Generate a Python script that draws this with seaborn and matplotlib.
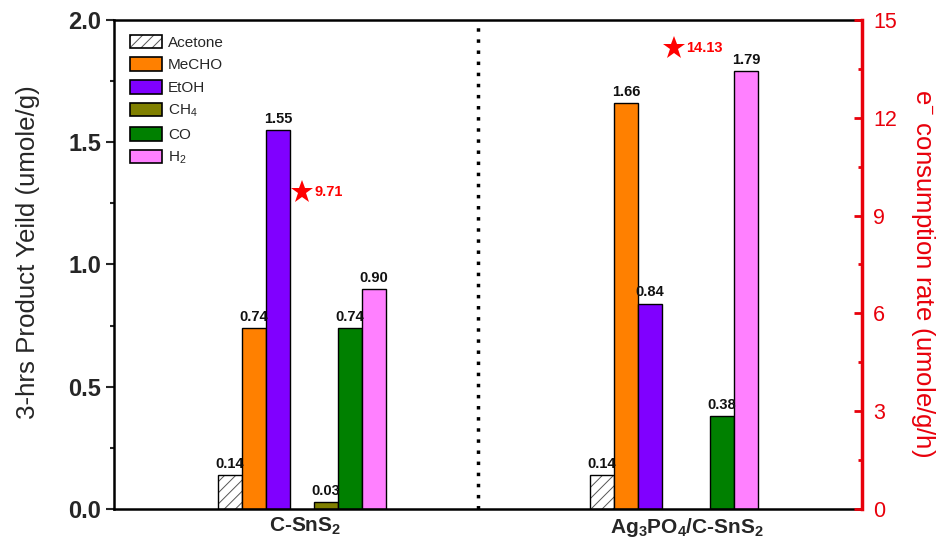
import numpy as np
import pandas as pd
import matplotlib
matplotlib.use("Agg")
import matplotlib.pyplot as plt
import matplotlib.patches as mpatches
import matplotlib.colors as mcolors
from matplotlib.ticker import MultipleLocator
import seaborn as sns

# ---- data ----
samples = ["C-SnS2", "Ag3PO4/C-SnS2"]
sample_labels = ["C-SnS$_2$", "Ag$_3$PO$_4$/C-SnS$_2$"]
products = ["Acetone", "MeCHO", "EtOH", "CH4", "CO", "H2"]
product_labels = ["Acetone", "MeCHO", "EtOH", "CH$_4$", "CO", "H$_2$"]
acetone = [0.14, 0.14]
mecho = [0.74, 1.66]
etoh = [1.55, 0.84]
ch4 = [0.03, np.nan]
co = [0.74, 0.38]
h2 = [0.90, 1.79]
e_rate = [9.71, 14.13]
colors = ["#FFFFFF", "#FF8000", "#8000FF", "#808000", "#008000", "#FF80FF"]

sns.set_theme(style="ticks")
plt.rcParams["font.family"] = ["Liberation Sans", "DejaVu Sans"]
plt.rcParams["mathtext.default"] = "regular"
plt.rcParams["hatch.linewidth"] = 0.7

series = [acetone, mecho, etoh, ch4, co, h2]
rows = []
for prod, vals in zip(products, series):
    for s, v in zip(samples, vals):
        rows.append({"sample": s, "product": prod, "value": v})
df = pd.DataFrame(rows)

GAP = " "
hue_order = products[:3] + [GAP] + products[3:]
palette = dict(zip(products, colors))
palette[GAP] = "#FFFFFF"

fig = plt.figure(figsize=(9.38, 5.43), dpi=100)
ax = fig.add_axes([0.1215, 0.0626, 0.7975, 0.9006])

sns.barplot(data=df.dropna(), x="sample", y="value", hue="product",
            order=samples, hue_order=hue_order, palette=palette,
            width=0.4516, edgecolor="black", linewidth=1.0,
            errorbar=None, legend=False, ax=ax, saturation=1)

hatch_gray = mcolors.to_rgba("#555555")
for cont in ax.containers:
    if len(cont.patches) == 0:
        continue
    fc = cont.patches[0].get_facecolor()
    is_acetone = mcolors.to_hex(fc) == "#ffffff"
    if is_acetone:
        for p in cont.patches:
            p.set_hatch("///")
            p._hatch_color = hatch_gray
    labels = ["" if (v is None or np.isnan(v)) else f"{v:.2f}" for v in cont.datavalues]
    ax.bar_label(cont, labels=labels, padding=3, fontsize=10.5, fontweight="bold",
                 color="#111111")

ax.set_xlim(-0.505, 1.505)
ax.set_ylim(0, 2.0)
ax.yaxis.set_major_locator(MultipleLocator(0.5))
ax.yaxis.set_minor_locator(MultipleLocator(0.25))
ax.tick_params(axis="y", which="major", direction="out", length=6, width=1.5,
               labelsize=17, pad=3)
ax.tick_params(axis="y", which="minor", direction="out", length=3, width=1.5)
ax.set_yticks([0, 0.5, 1.0, 1.5, 2.0])
ax.set_yticklabels([f"{v:.1f}" for v in [0, 0.5, 1.0, 1.5, 2.0]], fontweight="bold", fontsize=17)

ax.set_xticks([0.01, 1.035])
ax.set_xticklabels(sample_labels, fontsize=15, fontweight="bold")
ax.tick_params(axis="x", length=0, pad=5)
ax.set_xlabel("")
ax.set_ylabel("3-hrs Product Yeild (umole/g)", fontsize=18.6, va="center", ha="center")
ax.yaxis.set_label_coords(-0.1143, 0.5256)

for side in ["left", "bottom", "top"]:
    ax.spines[side].set_linewidth(1.8)
    ax.spines[side].set_color("black")
ax.spines["right"].set_visible(False)

ax.axvline(0.473, color="black", linewidth=2.5, linestyle=(0, (1, 2.2)))

# right axis: electron consumption rate
ax2 = ax.twinx()
ax2.set_ylim(0, 15)
ax2.yaxis.set_major_locator(MultipleLocator(3))
ax2.yaxis.set_minor_locator(MultipleLocator(1.5))
red = "#E8000B"
for side in ["left", "bottom", "top"]:
    ax2.spines[side].set_visible(False)
ax2.spines["right"].set_color(red)
ax2.spines["right"].set_linewidth(2.5)
ax2.tick_params(axis="y", which="major", direction="in", length=6, width=2,
                colors=red, labelsize=15.5, pad=8)
ax2.tick_params(axis="y", which="minor", direction="in", length=3, width=2, colors=red)
ax2.set_ylabel("e$^{-}$ consumption rate (umole/g/h)", color=red, fontsize=18.5,
               rotation=270, va="center", ha="center")
ax2.yaxis.set_label_coords(1.082, 0.4826)

ax2.plot([0, 1], e_rate, linestyle="none", marker="*", markersize=17,
         color="#FF0000", markeredgewidth=0)
for x, v in zip([0, 1], e_rate):
    ax2.annotate(f"{v:.2f}", (x, v), xytext=(9, 0), textcoords="offset points",
                 va="center", ha="left", color="#FF0000", fontsize=10.5,
                 fontweight="bold")

# legend
handles = []
for lab, col in zip(product_labels, colors):
    h = mpatches.Patch(facecolor=col, edgecolor="black", linewidth=1.2,
                       hatch="///" if col == "#FFFFFF" else None)
    if col == "#FFFFFF":
        h._hatch_color = hatch_gray
    handles.append(h)
ax.legend(handles, product_labels, loc="upper left", bbox_to_anchor=(0.021, 0.97),
          frameon=False, fontsize=11, borderpad=0, borderaxespad=0,
          handlelength=2.1, handleheight=1.0, handletextpad=0.4, labelspacing=0.5)

fig.savefig("out.png", dpi=100)
